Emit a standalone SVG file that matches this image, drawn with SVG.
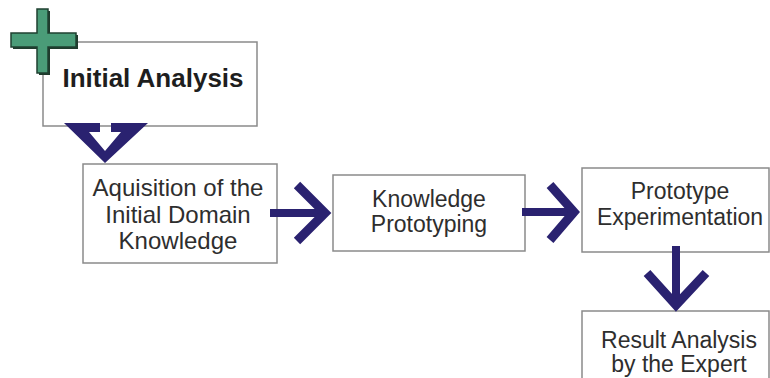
<svg xmlns="http://www.w3.org/2000/svg" width="770" height="378" viewBox="0 0 770 378">
<style>
.box{fill:#fff;stroke:#8a8a8a;stroke-width:1.5}
.t{font-family:"Liberation Sans",Arial,sans-serif;font-size:23px;fill:#2e2e2e;text-anchor:middle}
.tb{font-family:"Liberation Sans",Arial,sans-serif;font-size:26px;font-weight:bold;fill:#1e1e1e;text-anchor:middle}
.shaft{stroke:#2a2270;stroke-width:8;fill:none}
.chev{stroke:#2a2270;stroke-width:9;fill:none;stroke-linejoin:miter;stroke-miterlimit:10}
</style>
<rect width="770" height="378" fill="#fff"/>
<g id="initial-analysis">
<rect class="box" x="43" y="42" width="214" height="84"/>
<text class="tb" x="153" y="87">Initial Analysis</text>
</g>
<g id="start-cross">
<polygon points="39,11 50,11 50,35 78,35 78,49 50,49 50,75 39,75 39,49 13,49 13,35 39,35" fill="#1f3a2c"/>
<polygon points="37,9 48,9 48,33 76,33 76,47 48,47 48,73 37,73 37,47 11,47 11,33 37,33" fill="#4a9c78" stroke="#1f4030" stroke-width="1.5"/>
</g>
<g id="aquisition">
<rect class="box" x="83" y="164" width="194" height="99"/>
<text class="t" x="178" y="196" style="font-size:24px">Aquisition of the</text>
<text class="t" x="178" y="223" style="font-size:24px">Initial Domain</text>
<text class="t" x="178" y="249" style="font-size:24px">Knowledge</text>
</g>
<g id="knowledge-prototyping">
<rect class="box" x="333" y="175" width="192" height="76"/>
<text class="t" x="429" y="207">Knowledge</text>
<text class="t" x="429" y="232">Prototyping</text>
</g>
<g id="prototype-experimentation">
<rect class="box" x="582" y="168" width="187" height="84"/>
<text class="t" x="680" y="199">Prototype</text>
<text class="t" x="680" y="225">Experimentation</text>
</g>
<g id="result-analysis">
<rect class="box" x="582" y="311" width="187" height="80"/>
<text class="t" x="679" y="348">Result Analysis</text>
<text class="t" x="679" y="372">by the Expert</text>
</g>
<g id="connectors">
<polygon points="64,123 100,123 100,132 89,132 105,151 121,132 111,132 111,123 148,123 105,163" fill="#2a2270"/>
<line class="shaft" x1="270" y1="213" x2="326" y2="213"/>
<polyline class="chev" points="297,185 325,213 297,241"/>
<line class="shaft" x1="522" y1="212" x2="574" y2="212"/>
<polyline class="chev" points="550,185 574,212 550,240"/>
<line class="shaft" x1="676" y1="246" x2="676" y2="306"/>
<polyline class="chev" points="647,273 676,305 706,273"/>
</g>
</svg>
